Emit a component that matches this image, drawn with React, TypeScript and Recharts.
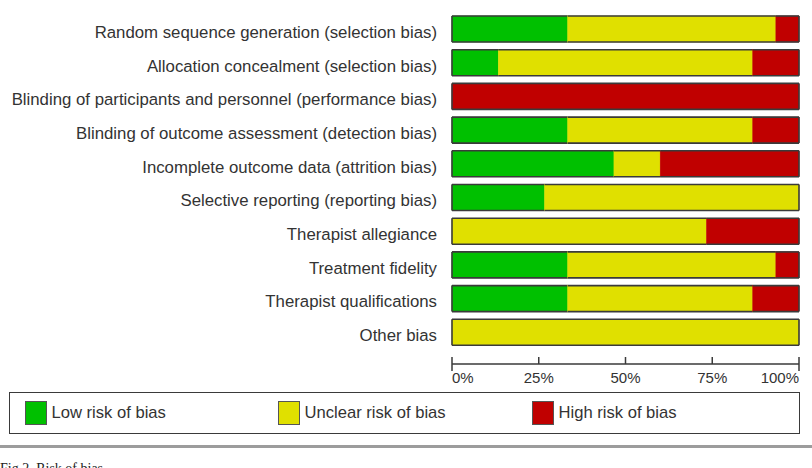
import React from "react";
import { BarChart, Bar, XAxis, YAxis } from "recharts";

// Risk-of-bias domains and number of studies (out of 15) per judgement
const DOMAINS = [
  "Random sequence generation (selection bias)",
  "Allocation concealment (selection bias)",
  "Blinding of participants and personnel (performance bias)",
  "Blinding of outcome assessment (detection bias)",
  "Incomplete outcome data (attrition bias)",
  "Selective reporting (reporting bias)",
  "Therapist allegiance",
  "Treatment fidelity",
  "Therapist qualifications",
  "Other bias",
];
const LOW_RISK = [5, 2, 0, 5, 7, 4, 0, 5, 5, 0];
const UNCLEAR_RISK = [9, 11, 0, 8, 2, 11, 11, 9, 8, 15];
const HIGH_RISK = [1, 2, 15, 2, 6, 0, 4, 1, 2, 0];
const PCT_TICKS = [0, 0.25, 0.5, 0.75, 1];

const GREEN = "#00c000";
const YELLOW = "#e0e000";
const RED = "#c00000";
const EDGE = "#3a3a3a";
const FONT = "'Liberation Sans', Arial, sans-serif";

const data = DOMAINS.map((name, i) => ({
  name,
  low: LOW_RISK[i],
  unclear: UNCLEAR_RISK[i],
  high: HIGH_RISK[i],
}));

type Key = "low" | "unclear" | "high";
const ORDER: Key[] = ["low", "unclear", "high"];

// Each segment is drawn without inner borders; only the outer edge of the
// whole stacked bar gets an outline.
const segment = (key: Key) => (props: any) => {
  const { x, y, width, height, fill, payload } = props;
  if (!width || width <= 0) return <g />;
  const idx = ORDER.indexOf(key);
  const isFirst = ORDER.slice(0, idx).every((k) => payload[k] === 0);
  const isLast = ORDER.slice(idx + 1).every((k) => payload[k] === 0);
  const sw = 1.6;
  return (
    <g>
      <rect x={x} y={y} width={width} height={height} fill={fill} stroke={fill} strokeWidth={0.5} />
      <line x1={x} x2={x + width} y1={y} y2={y} stroke={EDGE} strokeWidth={sw} />
      <line x1={x} x2={x + width} y1={y + height} y2={y + height} stroke={EDGE} strokeWidth={sw} />
      {isFirst && <line x1={x} x2={x} y1={y} y2={y + height} stroke={EDGE} strokeWidth={sw} />}
      {isLast && (
        <line x1={x + width} x2={x + width} y1={y} y2={y + height} stroke={EDGE} strokeWidth={sw} />
      )}
    </g>
  );
};

const PctTick = (props: any) => {
  const { x, y, payload, index } = props;
  const end = index === 0 || index === PCT_TICKS.length - 1;
  const anchor = index === 0 ? "start" : index === PCT_TICKS.length - 1 ? "end" : "middle";
  return (
    <g>
      <line x1={x} x2={x} y1={y - 7} y2={end ? y + 7 : y} stroke={EDGE} strokeWidth={1.5} />
      <text
        x={x}
        y={y + 19}
        textAnchor={anchor}
        fontSize={15}
        fontFamily={FONT}
        fill="#333"
      >
        {Math.round(payload.value * 100)}%
      </text>
    </g>
  );
};

const LabelTick = (props: any) => {
  const { x, y, payload } = props;
  return (
    <text x={x} y={y} dy={9} textAnchor="end" fontSize={16.8} fontFamily={FONT} fill="#333">
      {payload.value}
    </text>
  );
};

const LEGEND = [
  { label: "Low risk of bias", color: GREEN, left: 14.5 },
  { label: "Unclear risk of bias", color: YELLOW, left: 267.5 },
  { label: "High risk of bias", color: RED, left: 521.5 },
];

export default function App() {
  return (
    <div
      style={{
        position: "absolute",
        left: 0,
        top: 0,
        width: 812,
        height: 468,
        background: "#fff",
        overflow: "hidden",
      }}
    >
      <BarChart
        width={812}
        height={394}
        data={data}
        layout="vertical"
        stackOffset="expand"
        barSize={26}
        margin={{ top: 12, right: 13, bottom: 0, left: 0 }}
      >
        <YAxis
          type="category"
          dataKey="name"
          width={452}
          axisLine={false}
          tickLine={false}
          tickSize={0}
          tickMargin={15}
          interval={0}
          padding={{ top: 0, bottom: 15 }}
          tick={<LabelTick />}
        />
        <XAxis
          type="number"
          domain={[0, 1]}
          ticks={PCT_TICKS}
          height={30}
          tickSize={0}
          tickMargin={0}
          tickLine={false}
          axisLine={{ stroke: EDGE, strokeWidth: 1.5 }}
          tick={<PctTick />}
        />
        <Bar dataKey="low" stackId="rob" fill={GREEN} shape={segment("low")} isAnimationActive={false} />
        <Bar dataKey="unclear" stackId="rob" fill={YELLOW} shape={segment("unclear")} isAnimationActive={false} />
        <Bar dataKey="high" stackId="rob" fill={RED} shape={segment("high")} isAnimationActive={false} />
      </BarChart>

      <div
        style={{
          position: "absolute",
          left: 9,
          top: 392,
          width: 789,
          height: 40,
          border: `1.5px solid ${EDGE}`,
          fontFamily: FONT,
          fontSize: 16.6,
          color: "#333",
        }}
      >
        {LEGEND.map((item) => (
          <div
            key={item.label}
            style={{
              position: "absolute",
              left: item.left,
              top: 7.5,
              display: "flex",
              alignItems: "center",
            }}
          >
            <span
              style={{
                display: "inline-block",
                width: 20,
                height: 22,
                background: item.color,
                border: "1px solid #555",
                marginRight: 5,
              }}
            />
            <span>{item.label}</span>
          </div>
        ))}
      </div>

      <div
        style={{
          position: "absolute",
          left: 0,
          top: 445,
          width: 812,
          height: 3,
          background: "#9c9c9c",
        }}
      />
      <div
        style={{
          position: "absolute",
          left: 0,
          top: 461,
          fontFamily: "'Liberation Serif', serif",
          fontSize: 14,
          color: "#222",
          whiteSpace: "nowrap",
        }}
      >
        Fig 2. Risk of bias
      </div>
    </div>
  );
}
